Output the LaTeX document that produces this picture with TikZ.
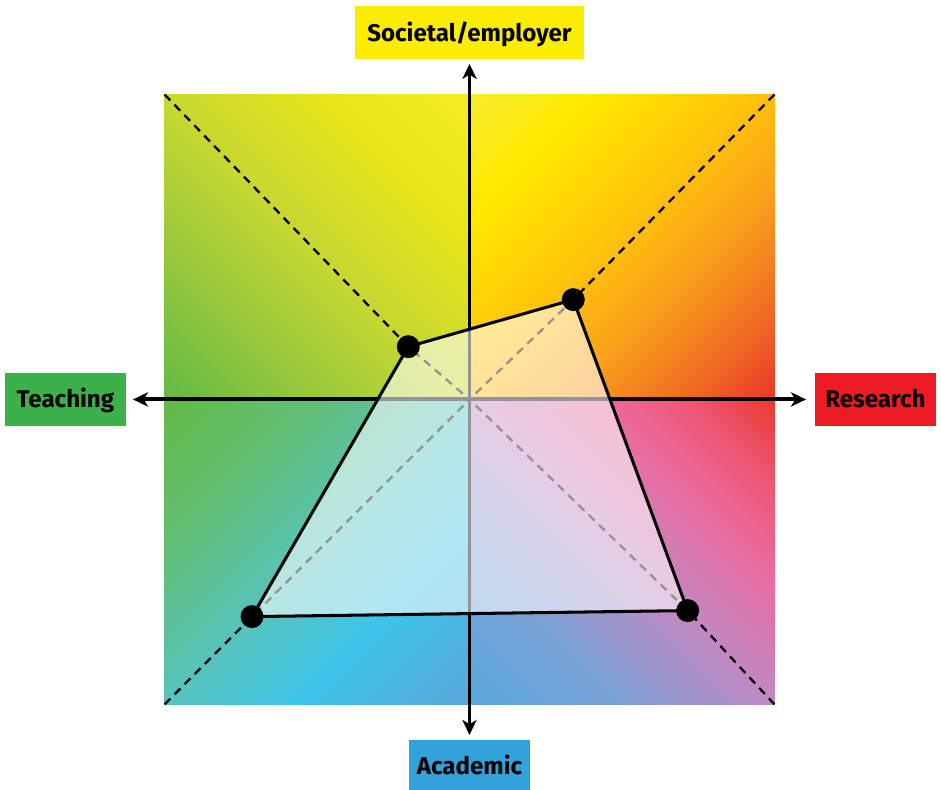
\documentclass[tikz,border=0pt]{standalone}
\usepackage{fontspec}
\setsansfont{Fira Sans}
\usetikzlibrary{arrows.meta}

\definecolor{socyellow}{HTML}{FCEC00}
\definecolor{teachgreen}{HTML}{3CB14A}
\definecolor{resred}{HTML}{ED1C24}
\definecolor{acadblue}{HTML}{34A2DA}
% stops of the four quadrant gradients
\definecolor{tla}{HTML}{64BA46}\definecolor{tlb}{HTML}{98C83C}\definecolor{tlc}{HTML}{C8D830}
\definecolor{tld}{HTML}{E6E41A}\definecolor{tle}{HTML}{F7EC22}
\definecolor{tra}{HTML}{F6EC2E}\definecolor{trb}{HTML}{FFE900}\definecolor{trc}{HTML}{FFC60A}
\definecolor{trd}{HTML}{F9A11C}\definecolor{tre}{HTML}{F06A24}\definecolor{trf}{HTML}{EA3828}
\definecolor{bra}{HTML}{58A8DE}\definecolor{brb}{HTML}{7CA2D6}\definecolor{brc}{HTML}{C288C2}
\definecolor{brd}{HTML}{EA6CA0}\definecolor{bre}{HTML}{EE5878}\definecolor{brf}{HTML}{EA3A2E}
\definecolor{bla}{HTML}{64BA44}\definecolor{blb}{HTML}{62BE76}\definecolor{blc}{HTML}{56C4BC}
\definecolor{bld}{HTML}{3EC4EA}\definecolor{ble}{HTML}{5AA6DA}

% 14.64bp..85.36bp runs from corner to corner of a quadrant
\pgfdeclarehorizontalshading{tlshade}{100bp}{color(0bp)=(tla); color(14.64bp)=(tla); color(32.32bp)=(tlb);
  color(50bp)=(tlc); color(67.68bp)=(tld); color(85.36bp)=(tle); color(100bp)=(tle)}
\pgfdeclarehorizontalshading{trshade}{100bp}{color(0bp)=(tra); color(14.64bp)=(tra); color(28.79bp)=(trb);
  color(46.46bp)=(trc); color(60.61bp)=(trd); color(74.75bp)=(tre); color(85.36bp)=(trf); color(100bp)=(trf)}
\pgfdeclarehorizontalshading{brshade}{100bp}{color(0bp)=(bra); color(14.64bp)=(bra); color(32.32bp)=(brb);
  color(50bp)=(brc); color(64.14bp)=(brd); color(74.75bp)=(bre); color(85.36bp)=(brf); color(100bp)=(brf)}
\pgfdeclarehorizontalshading{blshade}{100bp}{color(0bp)=(bla); color(14.64bp)=(bla); color(32.32bp)=(blb);
  color(50bp)=(blc); color(65.56bp)=(bld); color(85.36bp)=(ble); color(100bp)=(ble)}

\tikzset{
  tag/.style={inner sep=0pt, minimum width=1.19cm, minimum height=0.52cm,
    text height=4.65pt, text depth=0pt,
    font=\sffamily\bfseries\fontsize{6.75}{8}\selectfont},
  guide/.style={line width=0.65pt, dash pattern=on 2.3pt off 1.7pt},
  spot/.style={circle, fill=black, inner sep=0pt, minimum size=0.226cm}
}

\begin{document}
\begin{tikzpicture}
    \useasboundingbox (-4.618,-3.841) rectangle (4.638,3.929);
    % background
    \shade[shading=tlshade, shading angle=45](-3,0) rectangle (0,3);
    \shade[shading=trshade, shading angle=-45](0,0) rectangle (3,3);
    \shade[shading=brshade, shading angle=45](0,-3) rectangle (3,0);
    \shade[shading=blshade, shading angle=-45](-3,-3) rectangle (0,0);
    \coordinate (o) at (0,0);
    \coordinate (nw) at (-3,3);
    \coordinate (ne) at (3,3);
    \coordinate (se) at (3,-3);
    \coordinate (sw) at (-3,-3);
    \coordinate (ts) at (-0.602,0.519);
    \coordinate (sr) at (1.021,0.982);
    \coordinate (ra) at (2.146,-2.077);
    \coordinate (at) at (-2.139,-2.136);
    \coordinate (west) at (-3.31,0);
    \coordinate (east) at (3.31,0);
    \coordinate (north) at (0,3.30);
    \coordinate (south) at (0,-3.30);
    % diagonals
    \draw[guide](nw)--(ts)--(o);
    \draw[guide](ne)--(sr)--(o);
    \draw[guide](se)--(ra)--(o);
    \draw[guide](sw)--(at)--(o);
    % axes
    \draw[<->,>={Stealth[length=4.2pt,width=4pt,inset=1.2pt]},line width=1.1pt](west)--(east);
    \draw[<->,>={Stealth[length=4.2pt,width=4pt,inset=1.2pt]},line width=1.1pt](south)--(north);
    % profile
    \fill[white,fill opacity=0.58](ts)--(sr)--(ra)--(at)--cycle;
    \draw[line width=0.85pt](ts)--(sr)--(ra)--(at)--cycle;
    \foreach \p in {ts,sr,ra,at}
      \node[spot] at (\p) {};
    % labels
    \node[tag, fill=socyellow, minimum width=2.26cm] (soc) at (0,3.605) {Societal/employer};
    \node[tag, fill=teachgreen] (teach) at (-3.974,0) {Teaching};
    \node[tag, fill=resred] (res) at (3.993,0) {Research};
    \node[tag, fill=acadblue] (acad) at (0,-3.605) {Academic};
  \end{tikzpicture}
\end{document}
